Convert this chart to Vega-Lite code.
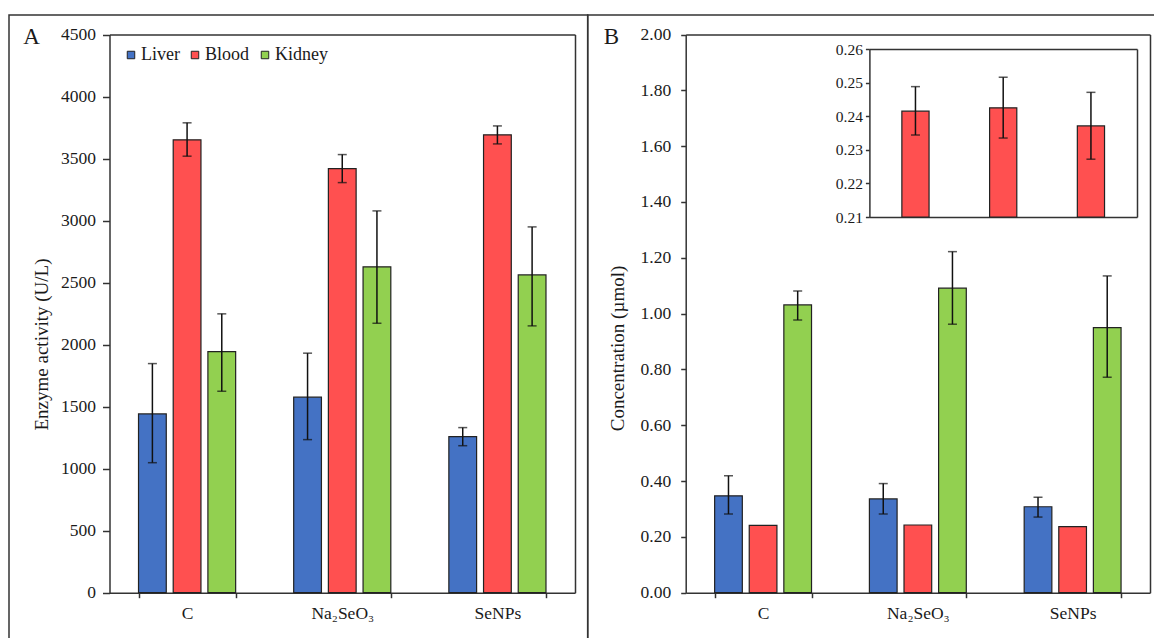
{
  "$schema": "https://vega.github.io/schema/vega-lite/v6.json",
  "width": 1154,
  "height": 638,
  "autosize": {"type": "none"},
  "padding": 0,
  "background": "white",
  "data": {
    "values": [
      {"panel": "A", "group": "C", "series": "Liver", "value": 1441, "lo": 1048, "hi": 1847},
      {"panel": "A", "group": "Na₂SeO₃", "series": "Liver", "value": 1576, "lo": 1234, "hi": 1931},
      {"panel": "A", "group": "SeNPs", "series": "Liver", "value": 1258, "lo": 1185, "hi": 1331},
      {"panel": "A", "group": "C", "series": "Blood", "value": 3651, "lo": 3519, "hi": 3788},
      {"panel": "A", "group": "Na₂SeO₃", "series": "Blood", "value": 3419, "lo": 3306, "hi": 3532},
      {"panel": "A", "group": "SeNPs", "series": "Blood", "value": 3691, "lo": 3618, "hi": 3763},
      {"panel": "A", "group": "C", "series": "Kidney", "value": 1944, "lo": 1624, "hi": 2248},
      {"panel": "A", "group": "Na₂SeO₃", "series": "Kidney", "value": 2627, "lo": 2172, "hi": 3078},
      {"panel": "A", "group": "SeNPs", "series": "Kidney", "value": 2562, "lo": 2151, "hi": 2949},
      {"panel": "B", "group": "C", "series": "Liver", "value": 0.347, "lo": 0.282, "hi": 0.419},
      {"panel": "B", "group": "Na₂SeO₃", "series": "Liver", "value": 0.336, "lo": 0.282, "hi": 0.391},
      {"panel": "B", "group": "SeNPs", "series": "Liver", "value": 0.308, "lo": 0.271, "hi": 0.342},
      {"panel": "B", "group": "C", "series": "Blood", "value": 0.2415, "lo": 0.2344, "hi": 0.2488},
      {"panel": "B", "group": "Na₂SeO₃", "series": "Blood", "value": 0.2425, "lo": 0.2335, "hi": 0.2516},
      {"panel": "B", "group": "SeNPs", "series": "Blood", "value": 0.2371, "lo": 0.2272, "hi": 0.2471},
      {"panel": "B", "group": "C", "series": "Kidney", "value": 1.031, "lo": 0.977, "hi": 1.081},
      {"panel": "B", "group": "Na₂SeO₃", "series": "Kidney", "value": 1.091, "lo": 0.962, "hi": 1.222},
      {"panel": "B", "group": "SeNPs", "series": "Kidney", "value": 0.95, "lo": 0.772, "hi": 1.135}
    ]
  },
  "layer": [
    {
      "data": {"values": [{"f": 0}]},
      "mark": {"type": "rect", "fillOpacity": 0, "stroke": "#333333", "strokeWidth": 1.5},
      "encoding": {
        "x": {"datum": 0, "type": "quantitative", "scale": {"domain": [0, 1], "range": [9, 587.7], "nice": false, "zero": false}, "axis": null},
        "x2": {"datum": 1},
        "y": {"datum": 0, "type": "quantitative", "scale": {"domain": [0, 1], "range": [15, 700], "nice": false, "zero": false},
          "axis": {"orient": "left", "offset": -9, "domain": false, "ticks": false, "labels": false, "title": "A", "titleAngle": 0, "titleX": 22, "titleY": 43, "titleAlign": "center", "titleBaseline": "alphabetic", "titleFontSize": 23, "titleFontWeight": "normal"}},
        "y2": {"datum": 1}
      }
    },
    {
      "data": {"values": [{"f": 0}]},
      "mark": {"type": "rect", "fillOpacity": 0, "stroke": "#333333", "strokeWidth": 1.5},
      "encoding": {
        "x": {"datum": 0, "type": "quantitative", "scale": {"domain": [0, 1], "range": [587.7, 1170], "nice": false, "zero": false}, "axis": null},
        "x2": {"datum": 1},
        "y": {"datum": 0, "type": "quantitative", "scale": {"domain": [0, 1], "range": [15, 700], "nice": false, "zero": false},
          "axis": {"orient": "left", "offset": -587.7, "domain": false, "ticks": false, "labels": false, "title": "B", "titleAngle": 0, "titleX": 23.3, "titleY": 43, "titleAlign": "center", "titleBaseline": "alphabetic", "titleFontSize": 23, "titleFontWeight": "normal"}},
        "y2": {"datum": 1}
      }
    },
    {
      "transform": [{"filter": "datum.panel === 'A'"}],
      "layer": [
        {
          "mark": {"type": "bar", "stroke": "#222222", "strokeWidth": 1.2},
          "encoding": {
            "x": {"field": "group", "type": "nominal", "sort": ["C", "Na₂SeO₃", "SeNPs"],
              "scale": {"range": [109.5, 575], "paddingInner": 0.374, "paddingOuter": 0.187},
              "axis": {"orient": "bottom", "offset": -45.3, "title": null, "labelAngle": 0, "labelFontSize": 17.5, "labelPadding": 21, "labelBaseline": "alphabetic", "tickBand": "extent", "tickSize": 5}},
            "xOffset": {"field": "series", "type": "nominal", "sort": ["Liver", "Blood", "Kidney"], "scale": {"paddingInner": 0.2, "paddingOuter": 0}},
            "y": {"field": "value", "type": "quantitative",
              "scale": {"domain": [0, 4500], "range": [592.7, 34.5], "nice": false},
              "axis": {"orient": "left", "offset": -109.5, "values": [0, 500, 1000, 1500, 2000, 2500, 3000, 3500, 4000, 4500], "format": "d", "tickSize": 7, "labelPadding": 7, "labelFontSize": 17.5,
                "title": "Enzyme  activity (U/L)", "titleFontSize": 19, "titleX": -68.5, "titleY": 344, "titleAngle": -90, "titleAlign": "center", "titleBaseline": "middle"}},
            "color": {"field": "series", "type": "nominal", "sort": ["Liver", "Blood", "Kidney"],
              "scale": {"domain": ["Liver", "Blood", "Kidney"], "range": ["#4472C4", "#FF5050", "#92D050"]},
              "legend": {"orient": "none", "legendX": 122, "legendY": 46, "direction": "horizontal", "title": null, "symbolType": "square", "symbolSize": 56, "symbolStrokeColor": "#222222", "symbolStrokeWidth": 1, "labelFontSize": 18, "labelFont": "Liberation Serif", "labelColor": "#1a1a1a", "columnPadding": 6, "labelOffset": 1, "padding": 0}}
          }
        },
        {
          "transform": [{"filter": "isValid(datum.lo)"}],
          "mark": {"type": "rule", "color": "#111111", "strokeWidth": 1.5},
          "encoding": {
            "x": {"field": "group", "type": "nominal", "sort": ["C", "Na₂SeO₃", "SeNPs"], "axis": {"orient": "top", "offset": -34.5, "labels": false, "ticks": false, "title": null}},
            "xOffset": {"field": "series", "type": "nominal", "sort": ["Liver", "Blood", "Kidney"]},
            "y": {"field": "lo", "type": "quantitative", "axis": {"orient": "right", "offset": -579, "labels": false, "ticks": false, "title": null}},
            "y2": {"field": "hi"}
          }
        },
        {
          "mark": {"type": "tick", "color": "#111111", "thickness": 1.5, "size": 9},
          "encoding": {
            "x": {"field": "group", "type": "nominal", "sort": ["C", "Na₂SeO₃", "SeNPs"], "axis": null},
            "xOffset": {"field": "series", "type": "nominal", "sort": ["Liver", "Blood", "Kidney"]},
            "y": {"field": "lo", "type": "quantitative", "axis": null}
          }
        },
        {
          "mark": {"type": "tick", "color": "#111111", "thickness": 1.5, "size": 9},
          "encoding": {
            "x": {"field": "group", "type": "nominal", "sort": ["C", "Na₂SeO₃", "SeNPs"], "axis": null},
            "xOffset": {"field": "series", "type": "nominal", "sort": ["Liver", "Blood", "Kidney"]},
            "y": {"field": "hi", "type": "quantitative", "axis": null}
          }
        }
      ],
      "resolve": {"axis": {"x": "independent", "y": "independent"}}
    },
    {
      "transform": [{"filter": "datum.panel === 'B'"}],
      "layer": [
        {
          "mark": {"type": "bar", "stroke": "#222222", "strokeWidth": 1.2},
          "encoding": {
            "x": {"field": "group", "type": "nominal", "sort": ["C", "Na₂SeO₃", "SeNPs"],
              "scale": {"range": [685.7, 1150], "paddingInner": 0.374, "paddingOuter": 0.187},
              "axis": {"orient": "bottom", "offset": -45.3, "title": null, "labelAngle": 0, "labelFontSize": 17.5, "labelPadding": 21, "labelBaseline": "alphabetic", "tickBand": "extent", "tickSize": 5}},
            "xOffset": {"field": "series", "type": "nominal", "sort": ["Liver", "Blood", "Kidney"], "scale": {"paddingInner": 0.2, "paddingOuter": 0}},
            "y": {"field": "value", "type": "quantitative",
              "scale": {"domain": [0, 2], "range": [592.7, 34.5], "nice": false},
              "axis": {"orient": "left", "offset": -685.7, "values": [0, 0.2, 0.4, 0.6, 0.8, 1, 1.2, 1.4, 1.6, 1.8, 2], "format": ".2f", "tickSize": 5, "labelPadding": 10, "labelFontSize": 17.5,
                "title": "Concentration (µmol)", "titleFontSize": 19, "titleX": -68.7, "titleY": 348, "titleAngle": -90, "titleAlign": "center", "titleBaseline": "middle"}},
            "color": {"field": "series", "type": "nominal", "sort": ["Liver", "Blood", "Kidney"],
              "scale": {"domain": ["Liver", "Blood", "Kidney"], "range": ["#4472C4", "#FF5050", "#92D050"]},
              "legend": {"orient": "none", "legendX": 122, "legendY": 46, "direction": "horizontal", "title": null, "symbolType": "square", "symbolSize": 56, "symbolStrokeColor": "#222222", "symbolStrokeWidth": 1, "labelFontSize": 18, "labelFont": "Liberation Serif", "labelColor": "#1a1a1a", "columnPadding": 6, "labelOffset": 1, "padding": 0}}
          }
        },
        {
          "transform": [{"filter": "datum.series !== 'Blood'"}],
          "mark": {"type": "rule", "color": "#111111", "strokeWidth": 1.5},
          "encoding": {
            "x": {"field": "group", "type": "nominal", "sort": ["C", "Na₂SeO₃", "SeNPs"], "axis": {"orient": "top", "offset": -34.5, "labels": false, "ticks": false, "title": null}},
            "xOffset": {"field": "series", "type": "nominal", "sort": ["Liver", "Blood", "Kidney"]},
            "y": {"field": "lo", "type": "quantitative", "axis": {"orient": "right", "offset": -4, "labels": false, "ticks": false, "title": null}},
            "y2": {"field": "hi"}
          }
        },
        {
          "transform": [{"filter": "datum.series !== 'Blood'"}],
          "mark": {"type": "tick", "color": "#111111", "thickness": 1.5, "size": 9},
          "encoding": {
            "x": {"field": "group", "type": "nominal", "sort": ["C", "Na₂SeO₃", "SeNPs"], "axis": null},
            "xOffset": {"field": "series", "type": "nominal", "sort": ["Liver", "Blood", "Kidney"]},
            "y": {"field": "lo", "type": "quantitative", "axis": null}
          }
        },
        {
          "transform": [{"filter": "datum.series !== 'Blood'"}],
          "mark": {"type": "tick", "color": "#111111", "thickness": 1.5, "size": 9},
          "encoding": {
            "x": {"field": "group", "type": "nominal", "sort": ["C", "Na₂SeO₃", "SeNPs"], "axis": null},
            "xOffset": {"field": "series", "type": "nominal", "sort": ["Liver", "Blood", "Kidney"]},
            "y": {"field": "hi", "type": "quantitative", "axis": null}
          }
        }
      ],
      "resolve": {"axis": {"x": "independent", "y": "independent"}}
    },
    {
      "transform": [{"filter": "datum.panel === 'B' && datum.series === 'Blood'"}],
      "layer": [
        {
          "mark": {"type": "bar", "color": "#FF5050", "stroke": "#222222", "strokeWidth": 1.2},
          "encoding": {
            "x": {"field": "group", "type": "nominal", "sort": ["C", "Na₂SeO₃", "SeNPs"],
              "scale": {"range": [869.4, 1137], "paddingInner": 0.69, "paddingOuter": 0.37},
              "axis": {"orient": "bottom", "offset": -421, "labels": false, "ticks": false, "title": null}},
            "y": {"field": "value", "type": "quantitative",
              "scale": {"domain": [0.21, 0.26], "range": [217, 49], "nice": false, "zero": false},
              "axis": {"orient": "left", "offset": -869.4, "values": [0.21, 0.22, 0.23, 0.24, 0.25, 0.26], "format": ".2f", "tickSize": 4, "labelPadding": 3, "labelFontSize": 15.5, "title": null}},
            "y2": {"datum": 0.21}
          }
        },
        {
          "mark": {"type": "rule", "color": "#111111", "strokeWidth": 1.5},
          "encoding": {
            "x": {"field": "group", "type": "nominal", "sort": ["C", "Na₂SeO₃", "SeNPs"], "axis": {"orient": "top", "offset": -49, "labels": false, "ticks": false, "title": null}},
            "y": {"field": "lo", "type": "quantitative", "axis": {"orient": "right", "offset": -17, "labels": false, "ticks": false, "title": null}},
            "y2": {"field": "hi"}
          }
        },
        {
          "mark": {"type": "tick", "color": "#111111", "thickness": 1.5, "size": 9},
          "encoding": {
            "x": {"field": "group", "type": "nominal", "sort": ["C", "Na₂SeO₃", "SeNPs"], "axis": null},
            "y": {"field": "lo", "type": "quantitative", "axis": null}
          }
        },
        {
          "mark": {"type": "tick", "color": "#111111", "thickness": 1.5, "size": 9},
          "encoding": {
            "x": {"field": "group", "type": "nominal", "sort": ["C", "Na₂SeO₃", "SeNPs"], "axis": null},
            "y": {"field": "hi", "type": "quantitative", "axis": null}
          }
        }
      ],
      "resolve": {"axis": {"x": "independent", "y": "independent"}}
    }
  ],
  "resolve": {
    "scale": {"x": "independent", "y": "independent", "xOffset": "independent"},
    "axis": {"x": "independent", "y": "independent"}
  },
  "config": {
    "view": {"stroke": null},
    "font": "Liberation Serif",
    "axis": {
      "grid": false,
      "labelFont": "Liberation Serif",
      "titleFont": "Liberation Serif",
      "labelColor": "#1a1a1a",
      "titleColor": "#1a1a1a",
      "titleFontWeight": "normal",
      "domainColor": "#333333",
      "tickColor": "#333333",
      "domainWidth": 1.5,
      "tickWidth": 1.5
    }
  }
}
